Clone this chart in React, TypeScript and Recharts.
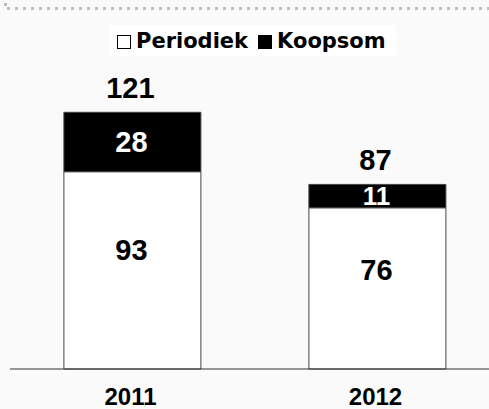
import { BarChart, Bar, XAxis, YAxis, Legend, LabelList } from 'recharts';

const years = ['2011', '2012'];
const periodiek = [93, 76];
const koopsom = [28, 11];
const seriesOrder = ['Periodiek', 'Koopsom'];

const chartData = years.map((year, i) => ({
    year,
    periodiek: periodiek[i],
    koopsom: koopsom[i],
    total: periodiek[i] + koopsom[i],
}));

const valueFont = '"Liberation Sans", Arial, sans-serif';

const box = (props: any) => props.viewBox ?? props;

// label inside a stacked segment; white segments put the number a bit above centre
const SegmentLabel = (props: any) => {
    const { x, y, width, height } = box(props);
    const { value, color, frac } = props;
    const size = height < 30 ? 26 : 29;
    const base = frac ? y + height * frac : y + height / 2 + size * 0.36;
    return (
        <text
            x={x + width / 2 - 1}
            y={base}
            textAnchor="middle"
            fill={color}
            fontFamily={valueFont}
            fontWeight="bold"
            fontSize={size}
        >
            {value}
        </text>
    );
};

const TotalLabel = (props: any) => {
    const { x, y, width } = box(props);
    return (
        <text
            x={x + width / 2 - 2}
            y={y - 14}
            textAnchor="middle"
            fill="#000"
            fontFamily={valueFont}
            fontWeight="bold"
            fontSize={29}
        >
            {props.value}
        </text>
    );
};

const YearTick = ({ x, y, payload }: any) => (
    <text
        x={x - 2}
        y={y + 34}
        textAnchor="middle"
        fill="#000"
        fontFamily={valueFont}
        fontWeight="bold"
        fontSize={24}
    >
        {payload.value}
    </text>
);

const LegendContent = ({ payload }: any) => {
    const items = [...(payload || [])].sort(
        (a: any, b: any) => seriesOrder.indexOf(a.value) - seriesOrder.indexOf(b.value)
    );
    return (
        <div
            style={{
                background: '#fff',
                height: 31,
                width: 287,
                display: 'flex',
                alignItems: 'center',
                paddingLeft: 8,
                boxSizing: 'border-box',
                fontFamily: '"DejaVu Sans", Verdana, sans-serif',
                fontWeight: 'bold',
                fontSize: 21,
                color: '#000',
            }}
        >
            {items.map((entry: any, i: number) => (
                <span key={entry.value} style={{ display: 'flex', alignItems: 'center', marginRight: i === 0 ? 10 : 0 }}>
                    <span
                        style={{
                            display: 'inline-block',
                            width: 14,
                            height: 14,
                            background: entry.color,
                            border: '1.5px solid #000',
                            boxSizing: 'border-box',
                            marginRight: 5,
                            marginTop: 2,
                        }}
                    />
                    <span>{entry.value}</span>
                </span>
            ))}
        </div>
    );
};

const App = () => {
    return (
        <div
            style={{
                position: 'fixed',
                top: 0,
                left: 0,
                width: 489,
                height: 409,
                overflow: 'hidden',
                background: '#fafafa',
            }}
        >
            <div style={{ position: 'absolute', top: 3, left: 4, width: 3, height: 3, background: '#bdbdbd' }} />
            <div
                style={{
                    position: 'absolute',
                    top: 7,
                    left: 7,
                    width: 482,
                    height: 3,
                    background: 'repeating-linear-gradient(to right, #bdbdbd 0 3px, transparent 3px 8px)',
                }}
            />
            <BarChart
                width={500}
                height={409}
                data={chartData}
                margin={{ top: 72, right: 0, left: 10, bottom: 0 }}
                barCategoryGap="22%"
            >
                <XAxis
                    dataKey="year"
                    height={40}
                    tickLine={false}
                    tickSize={0}
                    interval={0}
                    axisLine={{ stroke: '#333', strokeWidth: 1 }}
                    tick={<YearTick />}
                />
                <YAxis hide domain={[0, 140]} />
                <Legend
                    verticalAlign="middle"
                    align="center"
                    width={287}
                    content={<LegendContent />}
                    wrapperStyle={{ top: 25, left: 109, width: 287, height: 31 }}
                />
                <Bar
                    dataKey="periodiek"
                    name="Periodiek"
                    stackId="a"
                    fill="#fff"
                    stroke="#444"
                    strokeWidth={1}
                    isAnimationActive={false}
                >
                    <LabelList dataKey="periodiek" content={<SegmentLabel color="#000" frac={0.45} />} />
                </Bar>
                <Bar
                    dataKey="koopsom"
                    name="Koopsom"
                    stackId="a"
                    fill="#000"
                    stroke="#444"
                    strokeWidth={1}
                    isAnimationActive={false}
                >
                    <LabelList dataKey="koopsom" content={<SegmentLabel color="#fff" />} />
                    <LabelList dataKey="total" content={<TotalLabel />} />
                </Bar>
            </BarChart>
        </div>
    );
};

export default App;
